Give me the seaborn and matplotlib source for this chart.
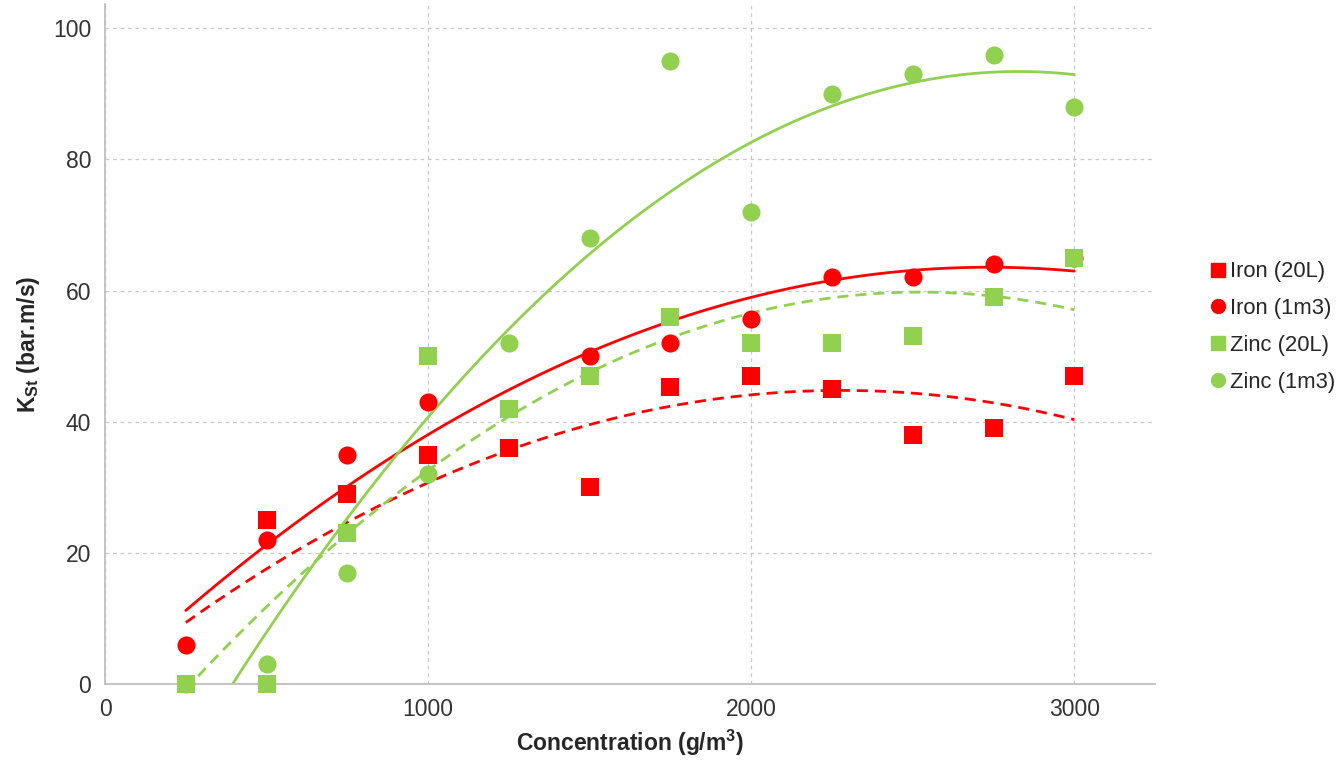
import numpy as np
import pandas as pd
import seaborn as sns
import matplotlib.pyplot as plt

# Data (concentration in g/m3, KSt in bar.m/s)
iron_20l_x = [250, 500, 750, 1000, 1250, 1500, 1750, 2000, 2250, 2500, 2750, 3000]
iron_20l_y = [0, 25, 29, 35, 36, 30, 45.3, 47, 45, 38, 39, 47]

iron_1m3_x = [250, 500, 750, 1000, 1500, 1750, 2000, 2250, 2500, 2750, 3000]
iron_1m3_y = [6, 22, 35, 43, 50, 52, 55.7, 62, 62, 64, 65]

zinc_20l_x = [250, 500, 750, 1000, 1250, 1500, 1750, 2000, 2250, 2500, 2750, 3000]
zinc_20l_y = [0, 0, 23, 50, 42, 47, 56, 52, 52, 53, 59, 65]

zinc_1m3_x = [250, 500, 750, 1000, 1250, 1500, 1750, 2000, 2250, 2500, 2750, 3000]
zinc_1m3_y = [0, 3, 17, 32, 52, 68, 95, 72, 90, 93, 96, 88]

series_names = ['Iron (20L)', 'Iron (1m3)', 'Zinc (20L)', 'Zinc (1m3)']
series_x = [iron_20l_x, iron_1m3_x, zinc_20l_x, zinc_1m3_x]
series_y = [iron_20l_y, iron_1m3_y, zinc_20l_y, zinc_1m3_y]

RED = '#FF0000'
GREEN = '#92D050'
styles = {
    'Iron (20L)': dict(color=RED, marker='s', ls='--'),
    'Iron (1m3)': dict(color=RED, marker='o', ls='-'),
    'Zinc (20L)': dict(color=GREEN, marker='s', ls='--'),
    'Zinc (1m3)': dict(color=GREEN, marker='o', ls='-'),
}

sns.set_style('white')
plt.rcParams['font.family'] = ['Liberation Sans', 'DejaVu Sans']
plt.rcParams['mathtext.fontset'] = 'custom'
plt.rcParams['mathtext.rm'] = 'Liberation Sans'
plt.rcParams['mathtext.bf'] = 'Liberation Sans:bold'
plt.rcParams['mathtext.it'] = 'Liberation Sans:italic'

fig = plt.figure(figsize=(13.4, 7.6), dpi=100)
ax = fig.add_axes([0.0784, 0.1, 0.7836, 0.8947])

# Quadratic trendlines first, markers on top
for name, xs, ys in zip(series_names, series_x, series_y):
    st = styles[name]
    df = pd.DataFrame({'x': xs, 'y': ys})
    sns.regplot(data=df, x='x', y='y', order=2, ci=None, scatter=False, ax=ax,
                line_kws=dict(color=st['color'], ls=st['ls'], lw=2,
                              dashes=(4, 2.5) if st['ls'] == '--' else (None, None)))

handles = []
for name, xs, ys in zip(series_names, series_x, series_y):
    st = styles[name]
    df = pd.DataFrame({'x': xs, 'y': ys})
    sns.scatterplot(data=df, x='x', y='y', ax=ax, color=st['color'], marker=st['marker'],
                    s=160 if st['marker'] == 's' else 170, linewidth=0, zorder=5, clip_on=False)
    handles.append(plt.Line2D([], [], color=st['color'], marker=st['marker'], ls='none',
                              markersize=10, label=name))

ax.set_xlim(0, 3250)
ax.set_ylim(0, 103.7)
ax.set_xticks([0, 1000, 2000, 3000])
ax.set_yticks([0, 20, 40, 60, 80, 100])
ax.grid(True, ls=(0, (3, 3)), color='#c8c8c8', lw=0.9)
ax.set_axisbelow(True)

for side in ['top', 'right']:
    ax.spines[side].set_visible(False)
for side in ['left', 'bottom']:
    ax.spines[side].set_color('#bfbfbf')
    ax.spines[side].set_linewidth(1.3)

ax.tick_params(axis='both', which='major', labelsize=16.5, colors='#404040',
               direction='inout', length=8, width=1, color='#bfbfbf', pad=6)
ax.tick_params(axis='both', labelcolor='#333333')

ax.set_xlabel('Concentration (g/m$\\mathbf{^3}$)', fontsize=16.5, fontweight='bold', labelpad=5)
ax.set_ylabel('$\\mathbf{K_{St}}$ (bar.m/s)', fontsize=16.5, fontweight='bold', labelpad=8)

ax.legend(handles=handles, loc='center left', bbox_to_anchor=(1.03, 0.525), frameon=False,
          fontsize=15.8, handletextpad=0.0, handlelength=1.1, labelspacing=0.72)

plt.savefig('out.png', dpi=100)
plt.close()
